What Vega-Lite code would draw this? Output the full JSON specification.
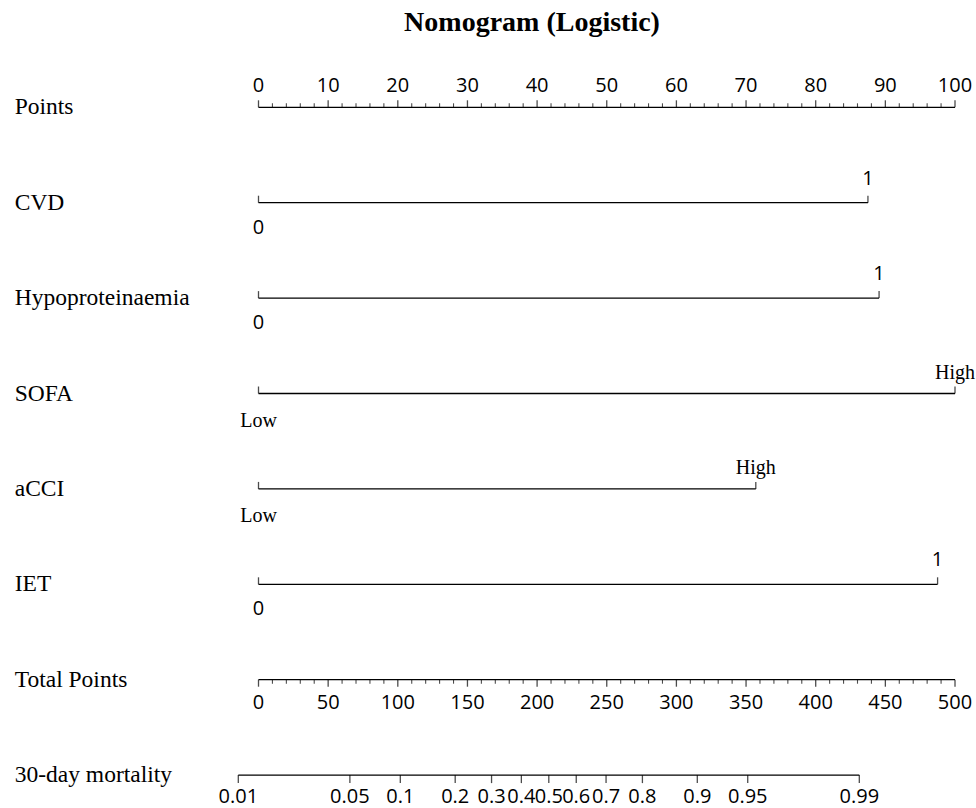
{
  "$schema": "https://vega.github.io/schema/vega-lite/v6.json",
  "width": 976,
  "height": 808,
  "autosize": {"type": "fit", "contains": "padding"},
  "padding": {"top": 9, "left": 0, "right": 0, "bottom": 0},
  "background": "white",
  "title": {"text": "Nomogram (Logistic)", "font": "Liberation Serif", "fontSize": 28, "fontWeight": "bold", "color": "black", "anchor": "middle", "dx": 44, "offset": 3},
  "config": {"view": {"stroke": null}},
  "datasets": {
    "rowLabels": [
      {"label": "Points", "row": 0},
      {"label": "CVD", "row": 1},
      {"label": "Hypoproteinaemia", "row": 2},
      {"label": "SOFA", "row": 3},
      {"label": "aCCI", "row": 4},
      {"label": "IET", "row": 5},
      {"label": "Total Points", "row": 6},
      {"label": "30-day mortality", "row": 7}
    ],
    "scaleLines": [
      {"row": 0, "lo": 0, "hi": 100},
      {"row": 1, "lo": 0, "hi": 87.5},
      {"row": 2, "lo": 0, "hi": 89.1},
      {"row": 3, "lo": 0, "hi": 100},
      {"row": 4, "lo": 0, "hi": 71.4},
      {"row": 5, "lo": 0, "hi": 97.5}
    ],
    "levels": [
      {"var": "CVD", "row": 1, "level": "0", "pts": 0},
      {"var": "CVD", "row": 1, "level": "1", "pts": 87.5},
      {"var": "Hypoproteinaemia", "row": 2, "level": "0", "pts": 0},
      {"var": "Hypoproteinaemia", "row": 2, "level": "1", "pts": 89.1},
      {"var": "SOFA", "row": 3, "level": "Low", "pts": 0},
      {"var": "SOFA", "row": 3, "level": "High", "pts": 100},
      {"var": "aCCI", "row": 4, "level": "Low", "pts": 0},
      {"var": "aCCI", "row": 4, "level": "High", "pts": 71.4},
      {"var": "IET", "row": 5, "level": "0", "pts": 0},
      {"var": "IET", "row": 5, "level": "1", "pts": 97.5}
    ],
    "pointTicks": [
      {"v": 0}, {"v": 2}, {"v": 4}, {"v": 6}, {"v": 8}, {"v": 10}, {"v": 12}, {"v": 14}, {"v": 16}, {"v": 18},
      {"v": 20}, {"v": 22}, {"v": 24}, {"v": 26}, {"v": 28}, {"v": 30}, {"v": 32}, {"v": 34}, {"v": 36}, {"v": 38},
      {"v": 40}, {"v": 42}, {"v": 44}, {"v": 46}, {"v": 48}, {"v": 50}, {"v": 52}, {"v": 54}, {"v": 56}, {"v": 58},
      {"v": 60}, {"v": 62}, {"v": 64}, {"v": 66}, {"v": 68}, {"v": 70}, {"v": 72}, {"v": 74}, {"v": 76}, {"v": 78},
      {"v": 80}, {"v": 82}, {"v": 84}, {"v": 86}, {"v": 88}, {"v": 90}, {"v": 92}, {"v": 94}, {"v": 96}, {"v": 98},
      {"v": 100}
    ],
    "totalLines": [
      {"row": 6, "lo": 0, "hi": 500},
      {"row": 7, "lo": -14.5, "hi": 431.3}
    ],
    "totalTicks": [
      {"t": 0}, {"t": 10}, {"t": 20}, {"t": 30}, {"t": 40}, {"t": 50}, {"t": 60}, {"t": 70}, {"t": 80}, {"t": 90},
      {"t": 100}, {"t": 110}, {"t": 120}, {"t": 130}, {"t": 140}, {"t": 150}, {"t": 160}, {"t": 170}, {"t": 180}, {"t": 190},
      {"t": 200}, {"t": 210}, {"t": 220}, {"t": 230}, {"t": 240}, {"t": 250}, {"t": 260}, {"t": 270}, {"t": 280}, {"t": 290},
      {"t": 300}, {"t": 310}, {"t": 320}, {"t": 330}, {"t": 340}, {"t": 350}, {"t": 360}, {"t": 370}, {"t": 380}, {"t": 390},
      {"t": 400}, {"t": 410}, {"t": 420}, {"t": 430}, {"t": 440}, {"t": 450}, {"t": 460}, {"t": 470}, {"t": 480}, {"t": 490},
      {"t": 500}
    ],
    "mortality": [
      {"prob": "0.01", "tp": -14.5},
      {"prob": "0.05", "tp": 65.6},
      {"prob": "0.1", "tp": 101.8},
      {"prob": "0.2", "tp": 141.2},
      {"prob": "0.3", "tp": 167.3},
      {"prob": "0.4", "tp": 188.7},
      {"prob": "0.5", "tp": 208.4},
      {"prob": "0.6", "tp": 228.1},
      {"prob": "0.7", "tp": 249.5},
      {"prob": "0.8", "tp": 275.6},
      {"prob": "0.9", "tp": 315.0},
      {"prob": "0.95", "tp": 351.2},
      {"prob": "0.99", "tp": 431.3}
    ]
  },
  "resolve": {"scale": {"x": "independent"}},
  "layer": [
    {
      "layer": [
        {
          "data": {"name": "rowLabels"},
          "mark": {"type": "text", "font": "Liberation Serif", "fontSize": 23.5, "align": "left", "baseline": "alphabetic", "dy": 7, "color": "black"},
          "encoding": {
            "x": {"datum": -35, "type": "quantitative", "scale": {"domain": [-37.114, 103.015], "nice": false, "zero": false}, "axis": null},
            "y": {"field": "row", "type": "quantitative", "scale": {"domain": [-0.7055, 7.3448], "reverse": true, "nice": false, "zero": false}, "axis": null},
            "text": {"field": "label"}
          }
        },
        {
          "data": {"name": "scaleLines"},
          "mark": {"type": "rule", "color": "black", "strokeWidth": 1.3},
          "encoding": {
            "x": {"field": "lo", "type": "quantitative", "scale": {"domain": [-37.114, 103.015], "nice": false, "zero": false}, "axis": null},
            "x2": {"field": "hi"},
            "y": {"field": "row", "type": "quantitative", "scale": {"domain": [-0.7055, 7.3448], "reverse": true, "nice": false, "zero": false}, "axis": null}
          }
        },
        {
          "data": {"name": "pointTicks"},
          "transform": [{"filter": "datum.v % 10 == 0"}],
          "mark": {"type": "tick", "orient": "vertical", "color": "black", "thickness": 1.3, "size": 7, "yOffset": -3.5},
          "encoding": {
            "x": {"field": "v", "type": "quantitative", "scale": {"domain": [-37.114, 103.015], "nice": false, "zero": false}, "axis": null},
            "y": {"datum": 0, "type": "quantitative"}
          }
        },
        {
          "data": {"name": "pointTicks"},
          "transform": [{"filter": "datum.v % 10 != 0"}],
          "mark": {"type": "tick", "orient": "vertical", "color": "black", "thickness": 1.1, "size": 4, "yOffset": -2},
          "encoding": {
            "x": {"field": "v", "type": "quantitative"},
            "y": {"datum": 0, "type": "quantitative"}
          }
        },
        {
          "data": {"name": "pointTicks"},
          "transform": [{"filter": "datum.v % 10 == 0"}],
          "mark": {"type": "text", "font": "Open Sans", "fontSize": 20, "align": "center", "baseline": "alphabetic", "dy": -15, "color": "black"},
          "encoding": {
            "x": {"field": "v", "type": "quantitative"},
            "y": {"datum": 0, "type": "quantitative"},
            "text": {"field": "v", "type": "quantitative", "format": "d"}
          }
        },
        {
          "data": {"name": "levels"},
          "mark": {"type": "tick", "orient": "vertical", "color": "black", "thickness": 1.3, "size": 7, "yOffset": -3.5},
          "encoding": {
            "x": {"field": "pts", "type": "quantitative"},
            "y": {"field": "row", "type": "quantitative"}
          }
        },
        {
          "data": {"name": "levels"},
          "transform": [{"filter": "datum.pts == 0 && datum.level != 'Low'"}],
          "mark": {"type": "text", "font": "Open Sans", "fontSize": 20, "align": "center", "baseline": "alphabetic", "dy": 31, "color": "black"},
          "encoding": {
            "x": {"field": "pts", "type": "quantitative"},
            "y": {"field": "row", "type": "quantitative"},
            "text": {"field": "level"}
          }
        },
        {
          "data": {"name": "levels"},
          "transform": [{"filter": "datum.pts > 0 && datum.level != 'High'"}],
          "mark": {"type": "text", "font": "Open Sans", "fontSize": 20, "align": "center", "baseline": "alphabetic", "dy": -18, "color": "black"},
          "encoding": {
            "x": {"field": "pts", "type": "quantitative"},
            "y": {"field": "row", "type": "quantitative"},
            "text": {"field": "level"}
          }
        },
        {
          "data": {"name": "levels"},
          "transform": [{"filter": "datum.level == 'Low'"}],
          "mark": {"type": "text", "font": "Liberation Serif", "fontSize": 20, "align": "center", "baseline": "alphabetic", "dy": 33, "color": "black"},
          "encoding": {
            "x": {"field": "pts", "type": "quantitative"},
            "y": {"field": "row", "type": "quantitative"},
            "text": {"field": "level"}
          }
        },
        {
          "data": {"name": "levels"},
          "transform": [{"filter": "datum.level == 'High'"}],
          "mark": {"type": "text", "font": "Liberation Serif", "fontSize": 20, "align": "center", "baseline": "alphabetic", "dy": -15, "color": "black"},
          "encoding": {
            "x": {"field": "pts", "type": "quantitative"},
            "y": {"field": "row", "type": "quantitative"},
            "text": {"field": "level"}
          }
        }
      ]
    },
    {
      "layer": [
        {
          "data": {"name": "totalLines"},
          "mark": {"type": "rule", "color": "black", "strokeWidth": 1.3},
          "encoding": {
            "x": {"field": "lo", "type": "quantitative", "scale": {"domain": [-185.57, 515.07], "nice": false, "zero": false}, "axis": null},
            "x2": {"field": "hi"},
            "y": {"field": "row", "type": "quantitative"}
          }
        },
        {
          "data": {"name": "totalTicks"},
          "transform": [{"filter": "datum.t % 50 == 0"}],
          "mark": {"type": "tick", "orient": "vertical", "color": "black", "thickness": 1.3, "size": 7, "yOffset": 3.5},
          "encoding": {
            "x": {"field": "t", "type": "quantitative"},
            "y": {"datum": 6, "type": "quantitative"}
          }
        },
        {
          "data": {"name": "totalTicks"},
          "transform": [{"filter": "datum.t % 50 != 0"}],
          "mark": {"type": "tick", "orient": "vertical", "color": "black", "thickness": 1.1, "size": 4, "yOffset": 2},
          "encoding": {
            "x": {"field": "t", "type": "quantitative"},
            "y": {"datum": 6, "type": "quantitative"}
          }
        },
        {
          "data": {"name": "totalTicks"},
          "transform": [{"filter": "datum.t % 50 == 0"}],
          "mark": {"type": "text", "font": "Open Sans", "fontSize": 20, "align": "center", "baseline": "alphabetic", "dy": 29, "color": "black"},
          "encoding": {
            "x": {"field": "t", "type": "quantitative"},
            "y": {"datum": 6, "type": "quantitative"},
            "text": {"field": "t", "type": "quantitative", "format": "d"}
          }
        },
        {
          "data": {"name": "mortality"},
          "mark": {"type": "tick", "orient": "vertical", "color": "black", "thickness": 1.3, "size": 8, "yOffset": 4},
          "encoding": {
            "x": {"field": "tp", "type": "quantitative"},
            "y": {"datum": 7, "type": "quantitative"}
          }
        },
        {
          "data": {"name": "mortality"},
          "mark": {"type": "text", "font": "Open Sans", "fontSize": 20, "align": "center", "baseline": "alphabetic", "dy": 28, "color": "black"},
          "encoding": {
            "x": {"field": "tp", "type": "quantitative"},
            "y": {"datum": 7, "type": "quantitative"},
            "text": {"field": "prob"}
          }
        }
      ]
    }
  ]
}
